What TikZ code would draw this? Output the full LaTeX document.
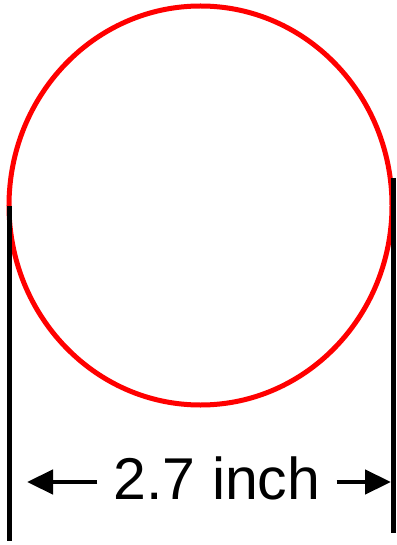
\documentclass[tikz,border=0pt]{standalone}
\usepackage{fontspec}
\setmainfont{Liberation Sans}
\usetikzlibrary{arrows.meta,positioning}

\begin{document}
\begin{tikzpicture}[x=1pt,y=-1pt,
   rim/.style={draw=red,line width=5pt},
   guide/.style={draw=black,line width=5pt},
   dimarrow/.style={draw=black,line width=4.5pt,-{Triangle[length=26pt,width=24pt]}},
   lbl/.style={inner sep=0pt,font=\fontsize{59}{61}\selectfont}]
  \useasboundingbox (0,0) rectangle (396,545);
  % circle and its two guide lines
  \draw[rim] (200.5,205.5) ellipse (191.5 and 199.5);
  \coordinate (ltop) at (9.5,206);
  \coordinate (lbot) at (9.5,541);
  \coordinate (rtop) at (393,178);
  \coordinate (rbot) at (393,533);
  \draw[guide] (ltop) -- (lbot);
  \draw[guide] (rtop) -- (rbot);
  % dimension
  \node[lbl,anchor=base] (dim) at (217,499) {2.7 inch};
  \coordinate (ltip) at (27,482);
  \coordinate (rtip) at (391,482);
  \draw[dimarrow] (dim.west |- ltip) ++(-16,0) -- (ltip);
  \draw[dimarrow] (dim.east |- rtip) ++(16,0) -- (rtip);
\end{tikzpicture}
\end{document}
